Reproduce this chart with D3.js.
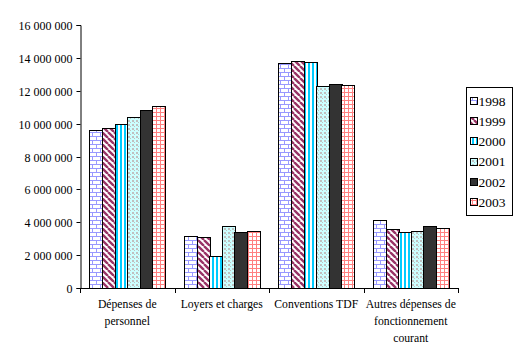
<!DOCTYPE html>
<html><head><meta charset="utf-8">
<script src="https://cdn.jsdelivr.net/npm/d3@7"></script>
<style>body{margin:0;background:#fff}svg{display:block}text{font-family:"Liberation Serif","Times New Roman",serif;fill:#000}</style>
</head><body><svg id="c" width="523" height="360"></svg>
<script>
const categories = ["Dépenses de personnel","Loyers et charges","Conventions TDF","Autres dépenses de fonctionnement courant"];
const categoryLines = [["Dépenses de","personnel"],["Loyers et charges"],["Conventions TDF"],["Autres dépenses de","fonctionnement","courant"]];
const years = ["1998","1999","2000","2001","2002","2003"];
const v1998 = [9590000, 3180000, 13680000, 4150000];
const v1999 = [9750000, 3110000, 13840000, 3600000];
const v2000 = [9950000, 1930000, 13720000, 3400000];
const v2001 = [10380000, 3790000, 12260000, 3460000];
const v2002 = [10800000, 3400000, 12400000, 3790000];
const v2003 = [11050000, 3460000, 12320000, 3660000];
const seriesValues = [v1998, v1999, v2000, v2001, v2002, v2003];
const yTicks = [0,2000000,4000000,6000000,8000000,10000000,12000000,14000000,16000000];
const yTickLabels = ["0","2 000 000","4 000 000","6 000 000","8 000 000","10 000 000","12 000 000","14 000 000","16 000 000"];

const svg = d3.select("#c");
const defs = svg.append("defs");
function pat(id,w,h,bg){const p=defs.append("pattern").attr("id",id).attr("patternUnits","userSpaceOnUse").attr("width",w).attr("height",h);p.append("rect").attr("width",w).attr("height",h).attr("fill",bg);return p;}
let p;
p=pat("p1998",8,8,"#fff");
p.append("path").attr("d","M0,0.5H8M0,4.5H8M0.5,0V4M4.5,4V8").attr("stroke","#9999ff").attr("stroke-width",1).attr("fill","none");
p=pat("p1999",6,6,"#fff");
p.append("path").attr("d","M-6,0L0,6M0,0L6,6M6,0L12,6").attr("stroke","#993366").attr("stroke-width",2.4).attr("fill","none");
p=pat("p2000",4,4,"#fff");
p.append("rect").attr("x",0).attr("y",0).attr("width",2).attr("height",4).attr("fill","#00ccff");
p=pat("p2001",4,4,"#ccffff");
p.append("rect").attr("x",0).attr("y",0).attr("width",2).attr("height",2).attr("fill","#c0c0c0");
p.append("rect").attr("x",2).attr("y",2).attr("width",1).attr("height",1).attr("fill","#c0c0c0");
p=pat("p2002",4,4,"#333333");
p=pat("p2003",4,4,"#fff");
p.append("path").attr("d","M0,0.5H4M0.5,0V4").attr("stroke","#ff8080").attr("stroke-width",1).attr("fill","none");

const y = d3.scaleLinear().domain([0,16000000]).range([288,25]);
const x0 = d3.scaleBand().domain(categories).range([80,458]).paddingInner(0).paddingOuter(0);
const x1 = d3.scaleBand().domain(years).range([0,x0.bandwidth()]).paddingInner(0).paddingOuter(0.75);

years.forEach((yr,i)=>{
  svg.append("g").selectAll("rect").data(seriesValues[i]).join("rect")
    .attr("x",(d,j)=>Math.round(x0(categories[j])+x1(yr))+0.5)
    .attr("y",d=>Math.round(y(d))+0.5)
    .attr("width",Math.round(x1.bandwidth()))
    .attr("height",d=>Math.round(y(0))-Math.round(y(d)))
    .attr("fill",`url(#p${yr})`).attr("stroke","#000").attr("stroke-width",1);
});

const yAxis = d3.axisLeft(y).tickValues(yTicks).tickSize(4).tickPadding(4).tickFormat((d,i)=>yTickLabels[i]);
const gy = svg.append("g").attr("transform","translate(80.5,0)").call(yAxis);
gy.selectAll("text").style("font-size","12px").attr("dy","0.35em");
gy.select(".domain").attr("stroke","#000");
gy.selectAll(".tick line").attr("stroke","#000");
gy.selectAll(".tick").attr("transform",d=>`translate(0,${Math.round(y(d))+0.5})`);

const gx = svg.append("g");
gx.append("line").attr("x1",80).attr("x2",458).attr("y1",288.5).attr("y2",288.5).attr("stroke","#000");
const bounds = categories.map(c=>x0(c)).concat([458]);
gx.selectAll("line.t").data(bounds).join("line").attr("class","t")
  .attr("x1",d=>Math.round(d)+0.5).attr("x2",d=>Math.round(d)+0.5).attr("y1",288).attr("y2",293).attr("stroke","#000");
categories.forEach((c,j)=>{
  const t = gx.append("text").attr("text-anchor","middle").style("font-size","11.7px");
  categoryLines[j].forEach((ln,k)=>{
    t.append("tspan").attr("x",x0(c)+x0.bandwidth()/2).attr("y",308+k*17).text(ln);
  });
});

const lg = svg.append("g");
lg.append("rect").attr("x",466.5).attr("y",87.5).attr("width",46).attr("height",128).attr("fill","#fff").attr("stroke","#000");
years.forEach((yr,i)=>{
  const cy = 101 + i*20.2;
  lg.append("rect").attr("x",470.5).attr("y",Math.round(cy-4)+0.5).attr("width",7).attr("height",7)
    .attr("fill",`url(#p${yr})`).attr("stroke","#000").attr("stroke-width",1);
  lg.append("text").attr("x",478.5).attr("y",cy).attr("dy","0.35em").style("font-size","13.5px").text(yr);
});
</script></body></html>
